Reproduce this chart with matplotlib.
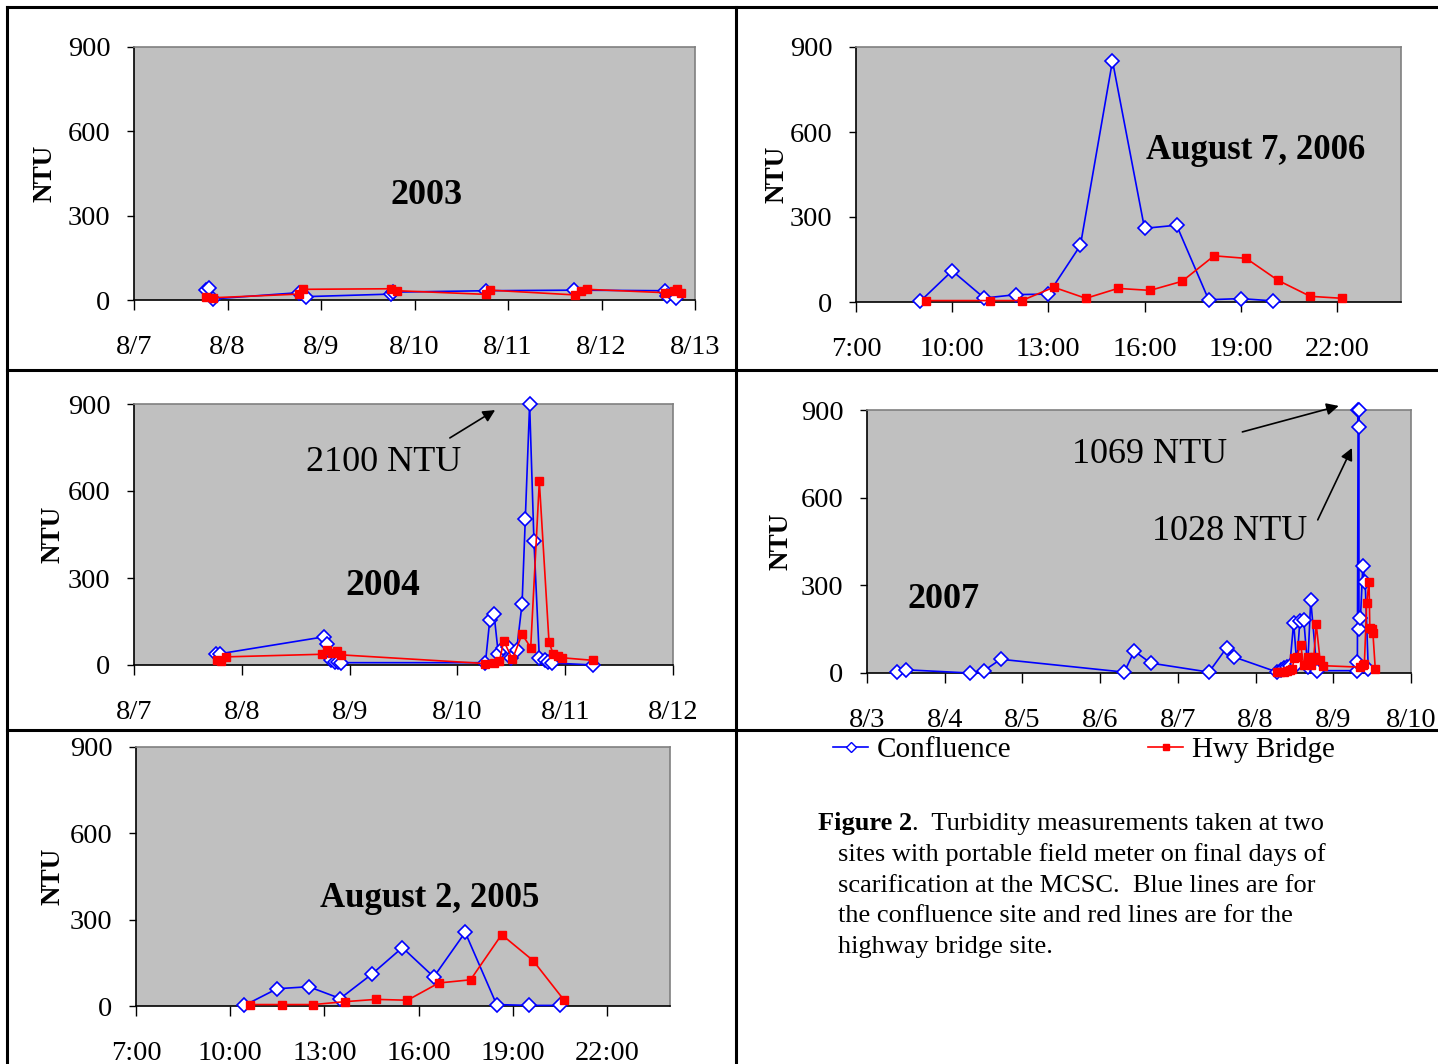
import matplotlib.pyplot as plt
from matplotlib.lines import Line2D
import numpy as np

plt.rcParams['font.family'] = ['Liberation Serif', 'DejaVu Serif']

# 2003, days after 8/7
conf_2003_day = [0.77, 0.80, 0.85, 1.76, 1.84, 2.75, 2.77, 3.77, 4.71, 5.68, 5.70, 5.80]
conf_2003_ntu = [35, 41, 4, 26, 12, 21, 28, 33, 35, 33, 14, 8]
hwy_2003_day = [0.77, 0.85, 1.76, 1.81, 2.75, 2.81, 3.77, 3.81, 4.72, 4.78, 4.84, 5.68, 5.78, 5.81, 5.85]
hwy_2003_ntu = [12, 8, 21, 38, 40, 33, 20, 35, 18, 33, 38, 26, 33, 38, 24]

# August 7, 2006, hour of day
conf_2006_hr = [9.0, 10.0, 11.0, 12.0, 13.0, 14.0, 15.0, 16.0, 17.0, 18.0, 19.0, 20.0]
conf_2006_ntu = [2, 110, 14, 26, 28, 200, 851, 260, 271, 8, 12, 4]
hwy_2006_hr = [9.17, 11.17, 12.17, 13.17, 14.17, 15.17, 16.17, 17.17, 18.17, 19.17, 20.17, 21.17, 22.17]
hwy_2006_ntu = [5, 5, 5, 52, 13, 48, 41, 73, 163, 154, 76, 20, 13]

# 2004, days after 8/7
conf_2004_day = [0.76, 0.80, 1.76, 1.79, 1.83, 1.86, 1.89, 1.92, 3.26, 3.30, 3.34, 3.38, 3.42,
                 3.47, 3.50, 3.55, 3.60, 3.63, 3.67, 3.71, 3.76, 3.81, 3.84, 3.88, 4.26]
conf_2004_ntu = [39, 39, 97, 74, 16, 12, 12, 8, 8, 154, 175, 37, 58,
                 63, 25, 53, 212, 505, 2100, 428, 25, 16, 12, 7, 0]
hwy_2004_day = [0.77, 0.81, 0.85, 1.74, 1.79, 1.84, 1.88, 1.92, 3.26, 3.34, 3.39, 3.43, 3.51,
                3.60, 3.68, 3.76, 3.85, 3.89, 3.93, 3.97, 4.26]
hwy_2004_ntu = [16, 14, 28, 37, 51, 43, 48, 35, 5, 8, 14, 83, 20,
                106, 60, 633, 78, 37, 31, 25, 16]

# 2007, days after 8/3
conf_2007_day = [0.38, 0.50, 1.32, 1.50, 1.72, 3.31, 3.44, 3.65, 4.40, 4.63, 4.72, 5.28, 5.33,
                 5.37, 5.40, 5.44, 5.49, 5.53, 5.57, 5.62, 5.67, 5.71, 5.79, 6.30, 6.31, 6.32,
                 6.325, 6.33, 6.33, 6.35, 6.38, 6.41, 6.45]
conf_2007_ntu = [3, 11, 0, 7, 47, 3, 75, 34, 3, 87, 55, 3, 10,
                 18, 22, 25, 172, 31, 178, 183, 20, 250, 8, 8, 39, 1069,
                 843, 1028, 150, 189, 366, 313, 14]
hwy_2007_day = [5.28, 5.32, 5.36, 5.40, 5.44, 5.47, 5.50, 5.53, 5.58, 5.62, 5.67, 5.71, 5.75,
                5.78, 5.83, 5.87, 6.35, 6.38, 6.40, 6.43, 6.46, 6.47, 6.50, 6.51, 6.54]
hwy_2007_ntu = [3, 5, 5, 8, 11, 13, 53, 56, 96, 26, 55, 26, 55,
                168, 45, 25, 20, 26, 30, 240, 313, 155, 150, 137, 15]

# August 2, 2005, hour of day
conf_2005_hr = [10.45, 11.49, 12.50, 13.50, 14.50, 15.48, 16.48, 17.48, 18.48, 19.50, 20.49]
conf_2005_ntu = [2, 60, 67, 26, 110, 203, 101, 256, 5, 2, 2]
hwy_2005_hr = [10.63, 11.65, 12.65, 13.64, 14.64, 15.64, 16.64, 17.65, 18.64, 19.64, 20.63]
hwy_2005_ntu = [5, 5, 5, 15, 23, 20, 80, 91, 248, 158, 20]

hour_ticks = [7, 10, 13, 16, 19, 22]
hour_labels = ['7:00', '10:00', '13:00', '16:00', '19:00', '22:00']
ntu_ticks = [0, 300, 600, 900]
YMAX = 900

W, H = 1438, 1064
fig = plt.figure(figsize=(W / 100, H / 100), dpi=100)


def panel(l, t, r, b):
    ax = fig.add_axes([l / W, 1 - b / H, (r - l) / W, (b - t) / H])
    ax.set_facecolor('#c0c0c0')
    for s in ('top', 'right'):
        ax.spines[s].set_color('#808080')
        ax.spines[s].set_linewidth(1.2)
    for s in ('left', 'bottom'):
        ax.spines[s].set_color('black')
        ax.spines[s].set_linewidth(1.2)
    ax.set_ylim(0, YMAX)
    ax.set_yticks(ntu_ticks)
    ax.tick_params(axis='y', direction='out', length=5, width=1, pad=12, labelsize=20.5)
    ax.tick_params(axis='x', direction='out', length=7, width=1, pad=18, labelsize=20.5)
    ax.set_ylabel('NTU', fontsize=19.5, fontweight='bold')
    return ax


def draw(ax, cx, cy, hx, hy):
    ax.plot(cx, np.minimum(cy, YMAX), color='#0000ff', lw=1.2, marker='D', ms=7,
            mfc='white', mec='#0000ff', mew=1.2, clip_on=False, zorder=3)
    ax.plot(hx, np.minimum(hy, YMAX), color='#ff0000', lw=1.2, marker='s', ms=6,
            mfc='#ff0000', mec='#ff0000', clip_on=False, zorder=3)


def arrow(ax, head, tail):
    ax.annotate('', xy=head, xytext=tail,
                arrowprops=dict(arrowstyle='-|>', color='black', lw=1.2, mutation_scale=18,
                                shrinkA=0, shrinkB=0), annotation_clip=False)


# 2003
ax1 = panel(134, 47, 695, 300)
draw(ax1, conf_2003_day, conf_2003_ntu, hwy_2003_day, hwy_2003_ntu)
ax1.set_xlim(0, 6)
ax1.set_xticks(range(7))
ax1.set_xticklabels(['8/7', '8/8', '8/9', '8/10', '8/11', '8/12', '8/13'])
ax1.yaxis.set_label_coords(-77 / 561, 0.5)
ax1.text(3.13, 370, '2003', fontsize=26, fontweight='bold', ha='center', va='center')

# August 7, 2006
ax2 = panel(856, 47, 1401, 302)
draw(ax2, conf_2006_hr, conf_2006_ntu, hwy_2006_hr, hwy_2006_ntu)
ax2.set_xlim(7, 24)
ax2.set_xticks(hour_ticks)
ax2.set_xticklabels(hour_labels)
ax2.yaxis.set_label_coords(-67 / 545, 0.5)
ax2.text(19.46, 535, 'August 7, 2006', fontsize=25, fontweight='bold', ha='center', va='center')

# 2004
ax3 = panel(134, 404, 673, 665)
draw(ax3, conf_2004_day, conf_2004_ntu, hwy_2004_day, hwy_2004_ntu)
ax3.set_xlim(0, 5)
ax3.set_xticks(range(6))
ax3.set_xticklabels(['8/7', '8/8', '8/9', '8/10', '8/11', '8/12'])
ax3.yaxis.set_label_coords(-69 / 539, 0.5)
ax3.text(2.31, 275, '2004', fontsize=27, fontweight='bold', ha='center', va='center')
ax3.text(2.32, 697, '2100 NTU', fontsize=26, ha='center', va='center')
arrow(ax3, (3.35, 879), (2.93, 783))

# 2007
ax4 = panel(867, 410, 1411, 673)
draw(ax4, conf_2007_day, conf_2007_ntu, hwy_2007_day, hwy_2007_ntu)
ax4.set_xlim(0, 7)
ax4.set_xticks(range(8))
ax4.set_xticklabels(['8/3', '8/4', '8/5', '8/6', '8/7', '8/8', '8/9', '8/10'])
ax4.yaxis.set_label_coords(-74 / 544, 0.5)
ax4.text(0.98, 252, '2007', fontsize=26, fontweight='bold', ha='center', va='center')
ax4.text(3.64, 748, '1069 NTU', fontsize=26, ha='center', va='center')
ax4.text(4.66, 485, '1028 NTU', fontsize=26, ha='center', va='center')
arrow(ax4, (6.07, 914), (4.83, 825))
arrow(ax4, (6.24, 770), (5.80, 524))

# August 2, 2005
ax5 = panel(136, 747, 670, 1006)
draw(ax5, conf_2005_hr, conf_2005_ntu, hwy_2005_hr, hwy_2005_ntu)
ax5.set_xlim(7, 24)
ax5.set_xticks(hour_ticks)
ax5.set_xticklabels(hour_labels)
ax5.yaxis.set_label_coords(-71 / 534, 0.5)
ax5.text(16.36, 375, 'August 2, 2005', fontsize=25, fontweight='bold', ha='center', va='center')


# cell borders
def hline(y, x0, x1):
    fig.add_artist(Line2D([x0 / W, x1 / W], [1 - y / H, 1 - y / H], color='black', lw=2.2))


def vline(x, y0, y1):
    fig.add_artist(Line2D([x / W, x / W], [1 - y0 / H, 1 - y1 / H], color='black', lw=2.2))


hline(7, 7, W)
hline(370, 7, W)
hline(730, 7, W)
vline(7, 7, H)
vline(736, 7, H)

# legend
handles = [Line2D([], [], color='#0000ff', lw=1.2, marker='D', ms=5, mfc='white', mec='#0000ff'),
           Line2D([], [], color='#ff0000', lw=1.2, marker='s', ms=5, mfc='#ff0000', mec='#ff0000')]
fig.legend(handles, ['Confluence', 'Hwy Bridge'], ncol=2, frameon=False, fontsize=21,
           loc='center left', bbox_to_anchor=(833 / W, 1 - 750 / H),
           handlelength=1.2, handletextpad=0.3, columnspacing=4.7, borderpad=0, borderaxespad=0)

# caption
cap_lines = ['sites with portable field meter on final days of',
             'scarification at the MCSC.  Blue lines are for',
             'the confluence site and red lines are for the',
             'highway bridge site.']
t0 = fig.text(818 / W, 1 - 830 / H, 'Figure 2', fontsize=19, fontweight='bold', va='baseline')
fig.canvas.draw()
bb = t0.get_window_extent()
fig.text(bb.x1 / W, 1 - 830 / H, '.  Turbidity measurements taken at two', fontsize=19, va='baseline')
for i, line in enumerate(cap_lines):
    fig.text(838 / W, 1 - (830 + 30.75 * (i + 1)) / H, line, fontsize=19, va='baseline')

fig.savefig('out.png', dpi=100)
